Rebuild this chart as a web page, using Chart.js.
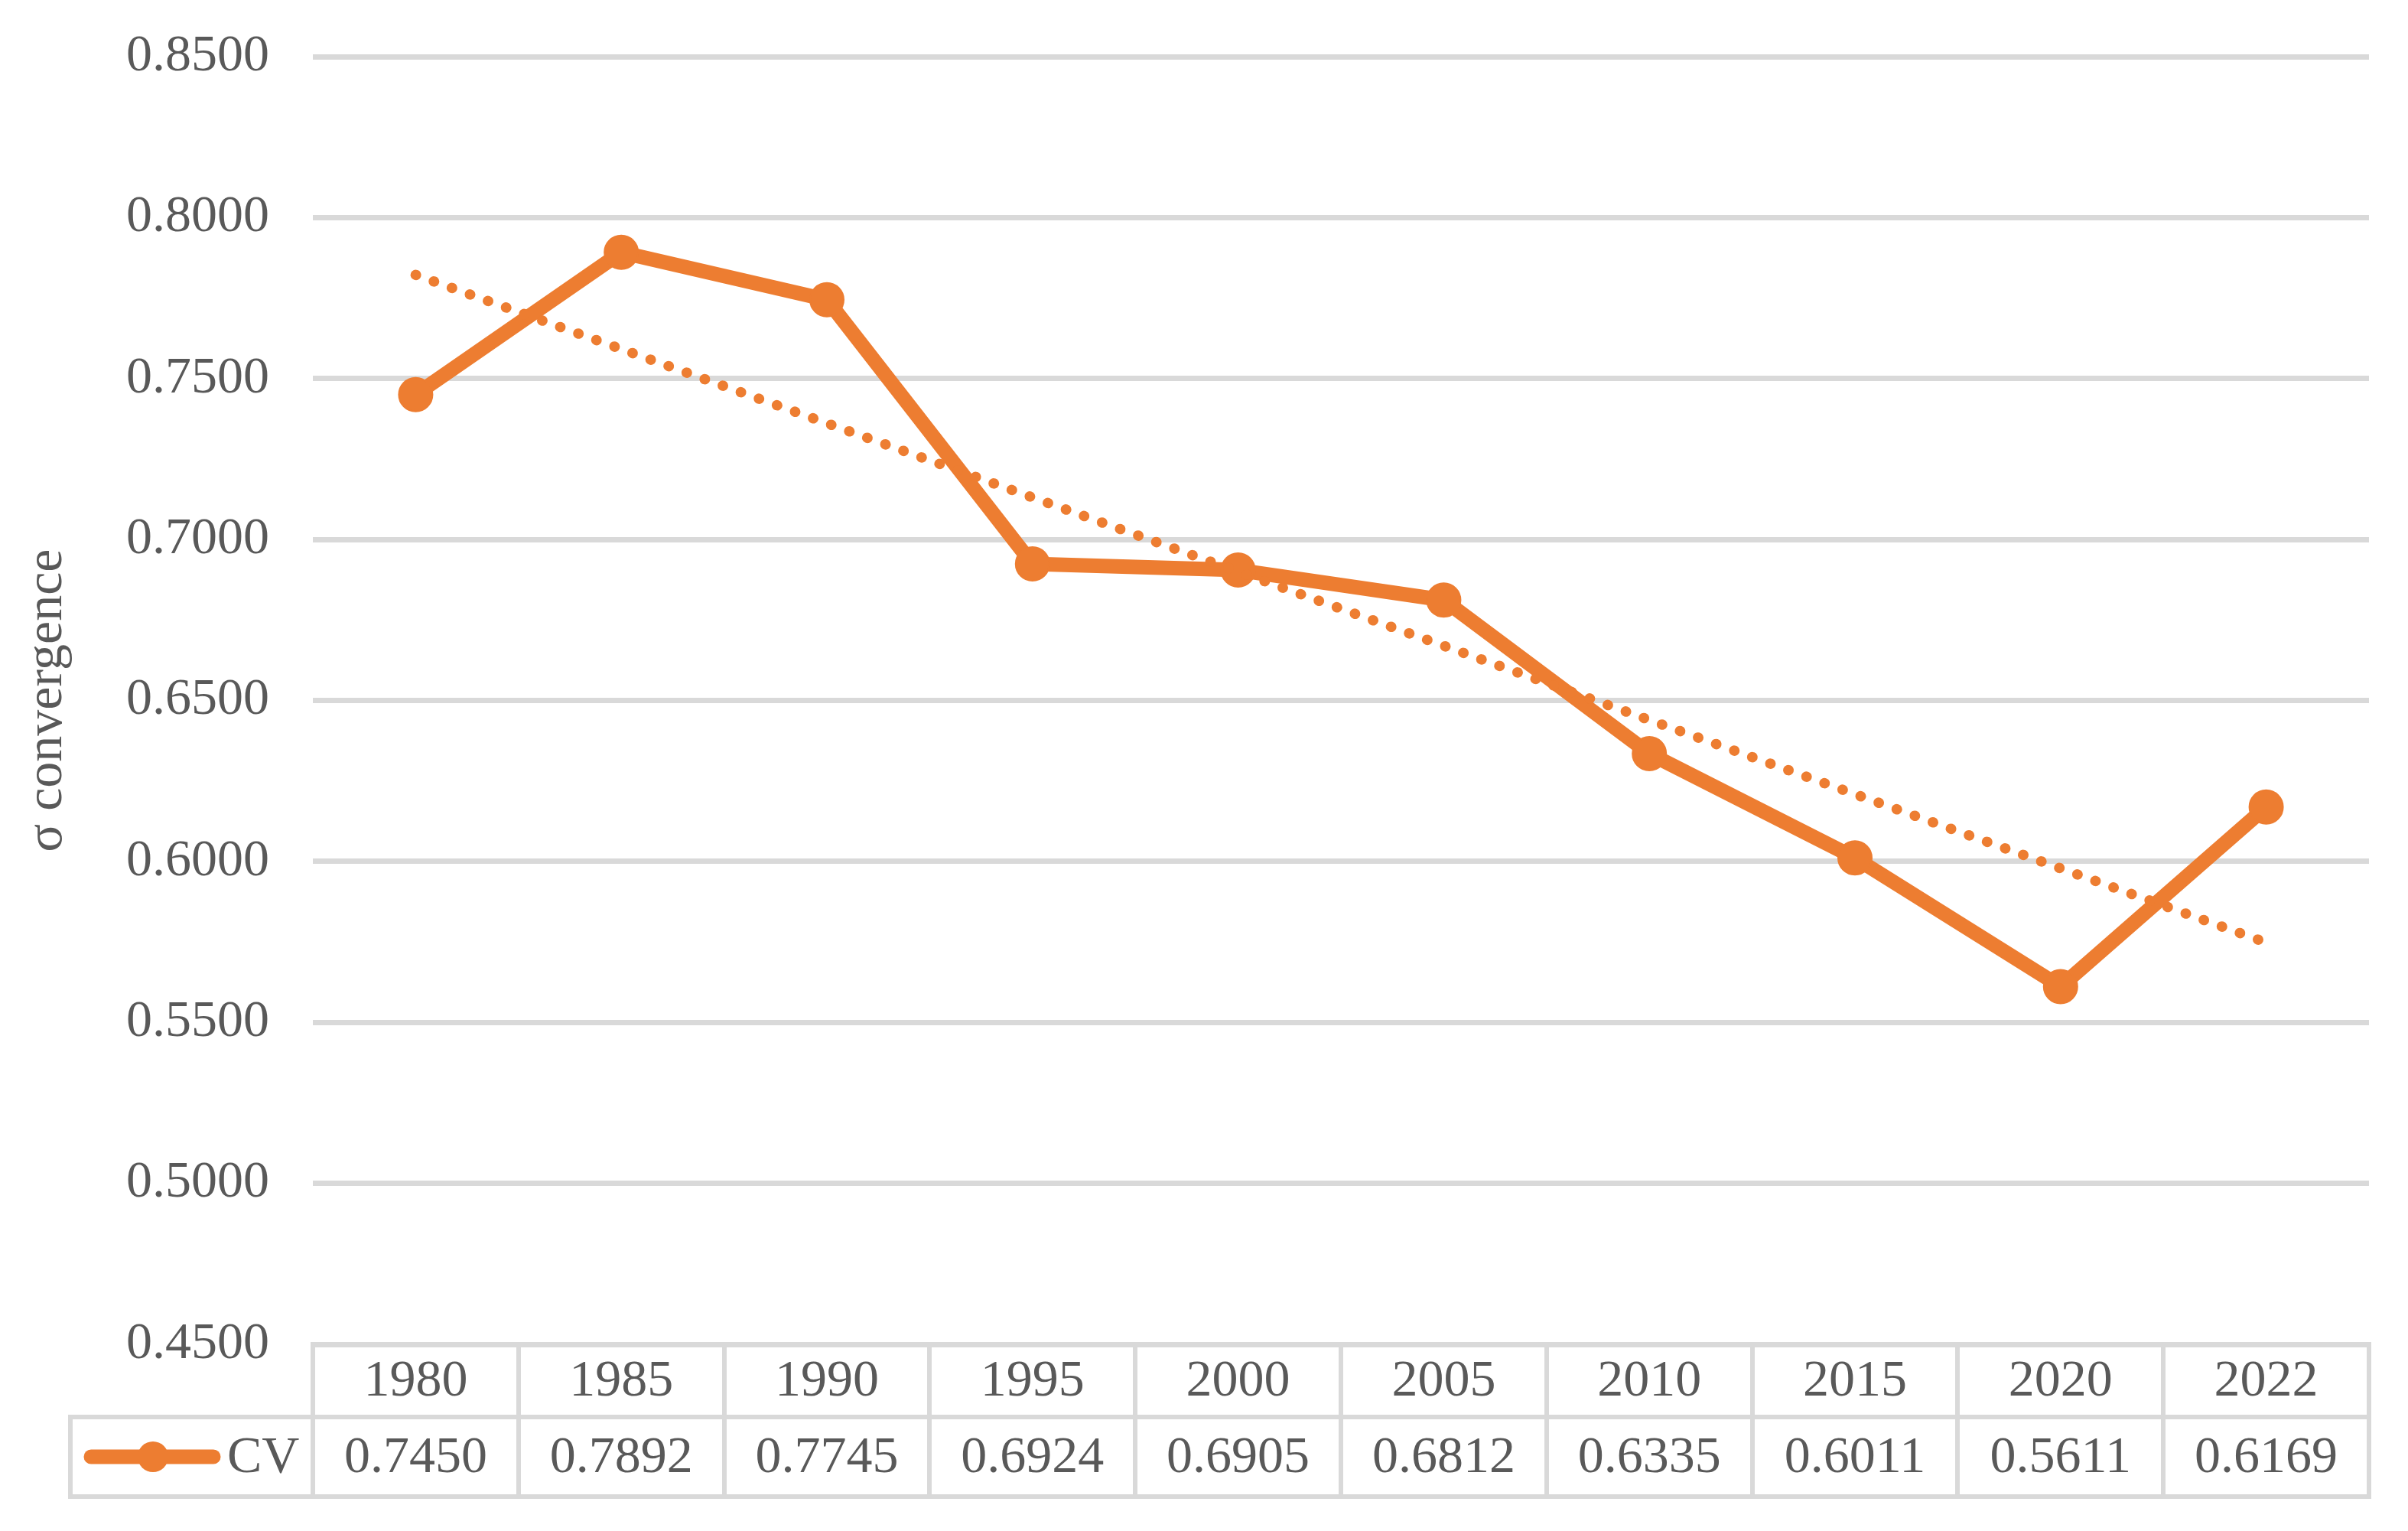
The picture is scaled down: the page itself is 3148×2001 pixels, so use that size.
<!DOCTYPE html>
<html>
<head>
<meta charset="utf-8">
<script src="https://cdn.jsdelivr.net/npm/chart.js@4"></script>
<style>
html,body{margin:0;padding:0;background:#ffffff;}
#wrap{width:3148px;height:2001px;}
</style>
</head>
<body>
<div id="wrap"><canvas id="c" width="3148" height="2001"></canvas></div>
<script>
const years = ['1980','1985','1990','1995','2000','2005','2010','2015','2020','2022'];
const cvValues = [0.7450, 0.7892, 0.7745, 0.6924, 0.6905, 0.6812, 0.6335, 0.6011, 0.5611, 0.6169];
const cvLabels = ['0.7450','0.7892','0.7745','0.6924','0.6905','0.6812','0.6335','0.6011','0.5611','0.6169'];
const trendValues = [0.7822, null, null, null, null, null, null, null, null, 0.5748];
const seriesName = 'CV';
const yTitle = 'σ convergence';

const ORANGE = '#ED7D31';
const GRID = '#D9D9D9';
const TEXT = '#595959';
const FONT = '"Liberation Serif", "Times New Roman", serif';
const FS = 68;

const tablePlugin = {
  id: 'dataTable',
  afterDraw(chart) {
    const ctx = chart.ctx;
    const x = chart.scales.x;
    const area = chart.chartArea;
    const n = years.length;
    const colW = (area.right - area.left) / n;
    const top = area.bottom;
    const mid = top + 95;
    const bot = top + 199;
    const legLeft = 92;
    ctx.save();
    ctx.strokeStyle = GRID;
    ctx.lineWidth = 6;
    ctx.lineCap = 'square';
    ctx.beginPath();
    ctx.moveTo(area.left, top); ctx.lineTo(area.right, top);
    ctx.moveTo(legLeft, mid); ctx.lineTo(area.right, mid);
    ctx.moveTo(legLeft, bot); ctx.lineTo(area.right, bot);
    ctx.moveTo(legLeft, mid); ctx.lineTo(legLeft, bot);
    for (let i = 0; i <= n; i++) {
      const xx = Math.round(area.left + i * colW);
      ctx.moveTo(xx, top); ctx.lineTo(xx, bot);
    }
    ctx.stroke();

    ctx.fillStyle = TEXT;
    ctx.font = FS + 'px ' + FONT;
    ctx.textAlign = 'center';
    ctx.textBaseline = 'middle';
    for (let i = 0; i < n; i++) {
      const cx = x.getPixelForValue(i);
      ctx.fillText(years[i], cx, (top + mid) / 2 + 2);
      ctx.fillText(cvLabels[i], cx, (mid + bot) / 2 + 2);
    }
    const ly = (mid + bot) / 2;
    ctx.strokeStyle = ORANGE;
    ctx.lineWidth = 19;
    ctx.lineCap = 'round';
    ctx.beginPath();
    ctx.moveTo(119, ly); ctx.lineTo(279, ly);
    ctx.stroke();
    ctx.fillStyle = ORANGE;
    ctx.beginPath();
    ctx.arc(200, ly, 20, 0, Math.PI * 2);
    ctx.fill();
    ctx.fillStyle = TEXT;
    ctx.textAlign = 'left';
    ctx.fillText(seriesName, 297, ly + 2);
    ctx.restore();
  }
};

new Chart(document.getElementById('c'), {
  type: 'line',
  data: {
    labels: years,
    datasets: [
      {
        label: 'Linear (' + seriesName + ')',
        data: trendValues,
        spanGaps: true,
        borderColor: ORANGE,
        borderWidth: 13.5,
        borderCapStyle: 'round',
        borderDash: [0.5, 24.6],
        pointRadius: 0,
        pointHoverRadius: 0,
        fill: false,
        tension: 0
      },
      {
        label: seriesName,
        data: cvValues,
        borderColor: ORANGE,
        backgroundColor: ORANGE,
        borderWidth: 19,
        borderJoinStyle: 'round',
        pointRadius: 22,
        pointBorderWidth: 2,
        pointBackgroundColor: ORANGE,
        pointBorderColor: ORANGE,
        pointHoverRadius: 22,
        fill: false,
        tension: 0
      }
    ]
  },
  options: {
    responsive: false,
    devicePixelRatio: 1,
    animation: false,
    events: [],
    layout: { padding: { left: 0, right: 51, top: 74, bottom: 244 } },
    plugins: {
      legend: { display: false },
      tooltip: { enabled: false },
      title: { display: false }
    },
    scales: {
      x: {
        type: 'category',
        offset: true,
        display: false,
        grid: { display: false },
        afterFit(scale) { scale.paddingLeft = 0; scale.paddingRight = 0; }
      },
      y: {
        min: 0.45,
        max: 0.85,
        afterFit(scale) {
          scale.width = 409;
          scale.paddingTop = 0;
          scale.paddingBottom = 0;
        },
        border: { display: false },
        grid: { color: GRID, lineWidth: 7, drawTicks: false },
        ticks: {
          stepSize: 0.05,
          padding: 57,
          color: TEXT,
          font: { family: FONT, size: FS },
          callback: (v) => Number(v).toFixed(4)
        },
        title: {
          display: true,
          text: yTitle,
          color: TEXT,
          font: { family: FONT, size: FS },
          padding: { top: 21, bottom: 0 }
        }
      }
    }
  },
  plugins: [tablePlugin]
});
</script>
</body>
</html>
